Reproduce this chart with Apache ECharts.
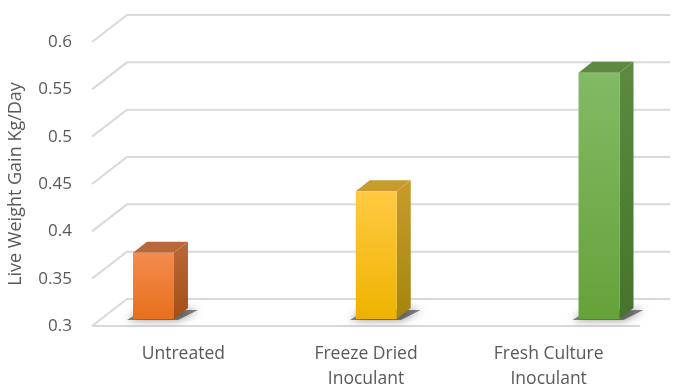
<!DOCTYPE html>
<html>
<head>
<meta charset="utf-8">
<script src="https://cdn.jsdelivr.net/npm/echarts@6/dist/echarts.min.js"></script>
<style>
  html, body { margin: 0; padding: 0; background: #fff; }
  #chart { width: 673px; height: 387px; }
</style>
</head>
<body>
<div id="chart"></div>
<script>
const categories = ["Untreated", "Freeze Dried\nInoculant", "Fresh Culture\nInoculant"];
const values = [0.37, 0.435, 0.56];
const yTicks = [0.3, 0.35, 0.4, 0.45, 0.5, 0.55, 0.6];

// front / side / top colours of each 3d column
const faceColors = [
  { top: "#f48c4e", bottom: "#e66f1c", side: "#a44f15", cap: "#b9683b" },
  { top: "#ffca42", bottom: "#eeb300", side: "#a3840f", cap: "#c89c2c" },
  { top: "#82ba65", bottom: "#66a23a", side: "#46742c", cap: "#5b8a40" },
];

const chart = echarts.init(document.getElementById("chart"));

const DEPTH_X = 35, DEPTH_Y = 27;   // wall depth
const BAR_DX = 14, BAR_DY = 11;     // column depth
const BAR_LIFT = 7;                 // column sits a bit behind the front edge

function renderGrid(params, api) {
  const cs = params.coordSys;
  const p = api.coord([0, api.value(1)]);
  const x0 = cs.x, y0 = p[1];
  const isFloor = params.dataIndex === 0;
  const children = [
    {
      type: "polyline",
      shape: { points: [[x0, y0], [x0 + DEPTH_X, y0 - DEPTH_Y], [cs.x + cs.width + 30, y0 - DEPTH_Y]] },
      style: { stroke: "#d9d9d9", lineWidth: 2, fill: null },
    },
  ];
  if (isFloor) {
    children.push({
      type: "line",
      shape: { x1: x0, y1: y0, x2: cs.x + cs.width, y2: y0 },
      style: { stroke: "#d9d9d9", lineWidth: 2 },
    });
  }
  return { type: "group", children };
}

function renderBar(params, api) {
  const i = params.dataIndex;
  const c = faceColors[i];
  const base = api.coord([api.value(0), yTicks[0]]);
  const top = api.coord([api.value(0), api.value(1)]);
  const w = api.size([0.184, 0])[0];
  const l = base[0] - w / 2, r = base[0] + w / 2;
  const yb = base[1] - BAR_LIFT, yt = top[1] - BAR_LIFT;
  return {
    type: "group",
    children: [
      {
        type: "polygon",
        shape: { points: [[l - 6, yb + 1], [l + BAR_DX - 4, yb - BAR_DY + 2], [r + BAR_DX + 10, yb - BAR_DY + 2], [r + 4, yb + 1]] },
        style: { fill: "rgba(20,20,20,0.5)", shadowBlur: 8, shadowColor: "rgba(0,0,0,0.9)" },
      },
      {
        type: "polygon",
        shape: { points: [[r, yt], [r + BAR_DX, yt - BAR_DY], [r + BAR_DX, yb - BAR_DY], [r, yb]] },
        style: {
          fill: new echarts.graphic.LinearGradient(0, 0, 0, 1, [
            { offset: 0, color: c.cap },
            { offset: 1, color: c.side },
          ]),
        },
      },
      {
        type: "polygon",
        shape: { points: [[l, yt], [l + BAR_DX, yt - BAR_DY], [r + BAR_DX, yt - BAR_DY], [r, yt]] },
        style: { fill: c.cap },
      },
      {
        type: "rect",
        shape: { x: l, y: yt, width: w, height: yb - yt },
        style: {
          fill: new echarts.graphic.LinearGradient(0, 0, 0, 1, [
            { offset: 0, color: c.top },
            { offset: 1, color: c.bottom },
          ]),
        },
      },
    ],
  };
}

const option = {
  animation: false,
  grid: { left: 92, right: 33, top: 42, bottom: 61, outerBoundsMode: "none" },
  xAxis: [
    {
      type: "category",
      data: categories,
      axisLine: { show: false },
      axisTick: { show: false },
      axisLabel: { color: "#595959", fontSize: 17.5, fontFamily: "Open Sans", lineHeight: 25, margin: 16 },
    },
    { type: "value", min: -0.276, max: 2.184, show: false },
  ],
  yAxis: {
    type: "value",
    min: 0.3,
    max: 0.6,
    interval: 0.05,
    name: "Live Weight Gain Kg/Day",
    nameLocation: "middle",
    nameGap: 67,
    nameTextStyle: { color: "#595959", fontSize: 18, fontFamily: "Open Sans" },
    axisLine: { show: false },
    axisTick: { show: false },
    splitLine: { show: false },
    axisLabel: { color: "#595959", fontSize: 17, fontFamily: "Open Sans", margin: 20 },
  },
  series: [
    {
      type: "custom",
      xAxisIndex: 1,
      renderItem: renderGrid,
      data: yTicks.map((t) => [0, t]),
      encode: { x: 0, y: 1 },
      z: 1,
      silent: true,
    },
    {
      type: "custom",
      xAxisIndex: 1,
      renderItem: renderBar,
      data: values.map((v, i) => [i, v]),
      encode: { x: 0, y: 1 },
      z: 2,
    },
  ],
};

chart.setOption(option);
</script>
</body>
</html>
